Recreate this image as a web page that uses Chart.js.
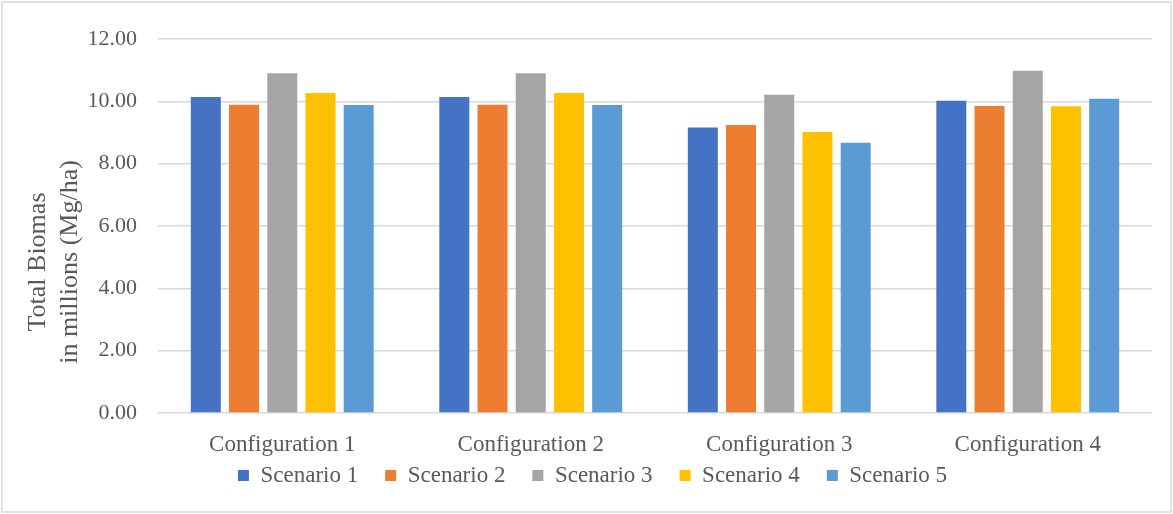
<!DOCTYPE html>
<html>
<head>
<meta charset="utf-8">
<title>Total Biomass by Configuration</title>
<script src="https://cdn.jsdelivr.net/npm/chart.js@4/dist/chart.umd.min.js"></script>
<style>
  html, body { margin: 0; padding: 0; background: #ffffff; }
  #wrap { width: 1173px; height: 514px; }
</style>
</head>
<body>
<div id="wrap"><canvas id="chart" width="1173" height="514"></canvas></div>
<script>
// Categories and series values (total biomass, millions Mg/ha)
const categories = ['Configuration 1', 'Configuration 2', 'Configuration 3', 'Configuration 4'];
const seriesNames = ['Scenario 1', 'Scenario 2', 'Scenario 3', 'Scenario 4', 'Scenario 5'];
const scenario1 = [10.14, 10.14, 9.16, 10.02];
const scenario2 = [9.89, 9.89, 9.24, 9.85];
const scenario3 = [10.90, 10.90, 10.21, 10.98];
const scenario4 = [10.27, 10.27, 9.02, 9.84];
const scenario5 = [9.88, 9.88, 8.67, 10.08];
const yTicks = [0, 2, 4, 6, 8, 10, 12];
const yTitleLines = ['Total Biomas', 'in millions (Mg/ha)'];

const seriesValues = [scenario1, scenario2, scenario3, scenario4, scenario5];
const seriesColors = ['#4472C4', '#ED7D31', '#A5A5A5', '#FFC000', '#5B9BD5'];
const textColor = '#595959';
const serif = "'Liberation Serif', 'Times New Roman', serif";

// Outer frame of the chart
const framePlugin = {
  id: 'frame',
  beforeDraw(chart) {
    const ctx = chart.ctx;
    ctx.save();
    ctx.fillStyle = '#ffffff';
    ctx.fillRect(0, 0, chart.width, chart.height);
    ctx.strokeStyle = '#d9d9d9';
    ctx.lineWidth = 1.5;
    ctx.strokeRect(2, 2, chart.width - 4, chart.height - 4);
    ctx.restore();
  }
};

// The category axis keeps a compact layout height so the legend sits close
// below it; its label band is widened afterwards so the names are not clipped.
const categoryBandPlugin = {
  id: 'categoryBand',
  afterLayout(chart) {
    const x = chart.scales.x;
    x.bottom = x.top + 52;
    x.height = 52;
  }
};

// Two-line rotated value-axis title
const yTitlePlugin = {
  id: 'yTitle',
  afterDraw(chart) {
    const ctx = chart.ctx;
    ctx.save();
    ctx.translate(0, 262);
    ctx.rotate(-Math.PI / 2);
    ctx.fillStyle = textColor;
    ctx.font = "26px " + serif;
    ctx.textAlign = 'center';
    ctx.textBaseline = 'alphabetic';
    ctx.fillText(yTitleLines[0], 0, 45);
    ctx.fillText(yTitleLines[1], 0, 77);
    ctx.restore();
  }
};

new Chart(document.getElementById('chart'), {
  type: 'bar',
  data: {
    labels: categories,
    datasets: seriesNames.map((name, i) => ({
      label: name,
      data: seriesValues[i],
      backgroundColor: seriesColors[i],
      borderWidth: 0,
      categoryPercentage: 0.769,
      barPercentage: 0.785
    }))
  },
  options: {
    responsive: false,
    animation: false,
    devicePixelRatio: 1,
    layout: { padding: { top: 39, left: 12, right: 0, bottom: 17 } },
    plugins: {
      tooltip: { enabled: false },
      title: { display: false },
      legend: {
        position: 'bottom',
        labels: {
          boxWidth: 11,
          boxHeight: 11,
          padding: 27,
          color: textColor,
          font: { family: serif, size: 23 }
        }
      }
    },
    scales: {
      x: {
        grid: { display: false },
        border: { display: false },
        ticks: {
          color: textColor,
          font: { family: serif, size: 23 },
          padding: 10,
          maxRotation: 0,
          autoSkip: false
        },
        afterFit(scale) { scale.height = 24; }
      },
      y: {
        min: 0,
        max: 12,
        afterBuildTicks(scale) { scale.ticks = yTicks.map(v => ({ value: v })); },
        grid: { color: '#d9d9d9', lineWidth: 1.5, drawTicks: false },
        border: { display: false },
        ticks: {
          color: textColor,
          font: { family: serif, size: 22 },
          padding: 21,
          callback: v => Number(v).toFixed(2)
        },
        afterFit(scale) { scale.width = 146; }
      },
      yRight: {
        position: 'right',
        grid: { display: false },
        border: { display: false },
        ticks: { display: false },
        afterFit(scale) { scale.width = 21; }
      }
    }
  },
  plugins: [framePlugin, categoryBandPlugin, yTitlePlugin]
});
</script>
</body>
</html>
